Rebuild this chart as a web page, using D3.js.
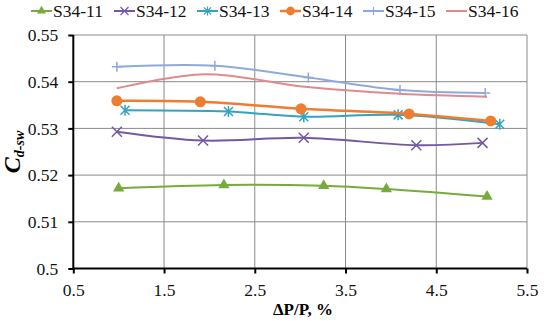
<!DOCTYPE html>
<html>
<head>
<meta charset="utf-8">
<script src="https://cdn.jsdelivr.net/npm/d3@7"></script>
<style>
  body { margin: 0; background: #fff; }
  svg text { font-family: "Liberation Serif", "Times New Roman", serif !important; }
</style>
</head>
<body>
<div id="chart"></div>
<script>
// series names and data
const seriesNames = ['S34-11', 'S34-12', 'S34-13', 'S34-14', 'S34-15', 'S34-16'];
const x11 = [1.00, 2.16, 3.26, 3.95, 5.06];
const y11 = [0.5172, 0.5179, 0.5177, 0.5170, 0.5154];
const x12 = [0.98, 1.93, 3.04, 4.28, 5.01];
const y12 = [0.5293, 0.5274, 0.5280, 0.5264, 0.5269];
const x13 = [1.07, 2.21, 3.04, 4.08, 5.20];
const y13 = [0.5339, 0.5336, 0.5325, 0.5329, 0.5309];
const x14 = [0.98, 1.90, 3.01, 4.20, 5.10];
const y14 = [0.5359, 0.5357, 0.5342, 0.5331, 0.5316];
const x15 = [0.98, 2.06, 3.09, 4.10, 5.04];
const y15 = [0.5432, 0.5434, 0.5409, 0.5382, 0.5376];
const x16 = [0.98, 1.95, 3.05, 4.10, 5.06];
const y16 = [0.5386, 0.5416, 0.5389, 0.5374, 0.5368];
const xTicks = [0.5, 1.5, 2.5, 3.5, 4.5, 5.5];
const yTicks = [0.5, 0.51, 0.52, 0.53, 0.54, 0.55];

const colors = ['#77ab3c', '#7458a4', '#33a3bf', '#ed7d31', '#8eaadb', '#e08a8e'];
const markers = ['triangle', 'x', 'asterisk', 'circle', 'plus', 'none'];
const widths = [2, 2, 2, 2.5, 2, 2];

const xs = [x11, x12, x13, x14, x15, x16];
const ys = [y11, y12, y13, y14, y15, y16];
const series = seriesNames.map((name, i) => ({
  name: name,
  color: colors[i],
  marker: markers[i],
  width: widths[i],
  points: xs[i].map((xv, j) => ({ x: xv, y: ys[i][j] }))
}));

const width = 550, height = 321;
const margin = { left: 73.3, right: 23, top: 35, bottom: 52.5 };

const svg = d3.select('#chart').append('svg')
  .attr('width', width).attr('height', height);

const x = d3.scaleLinear().domain([0.5, 5.5]).range([margin.left, width - margin.right]);
const y = d3.scaleLinear().domain([0.5, 0.55]).range([height - margin.bottom, margin.top]);

// gridlines
const grid = svg.append('g').attr('stroke', '#8a8a8a').attr('stroke-width', 1);
grid.selectAll('.vg').data(xTicks.slice(1)).enter().append('line')
  .attr('x1', d => x(d)).attr('x2', d => x(d))
  .attr('y1', y(0.5)).attr('y2', y(0.55));
grid.selectAll('.hg').data(yTicks.slice(1)).enter().append('line')
  .attr('x1', x(0.5)).attr('x2', x(5.5))
  .attr('y1', d => y(d)).attr('y2', d => y(d));

// axes
const xAxis = svg.append('g')
  .attr('transform', 'translate(0,' + y(0.5) + ')')
  .call(d3.axisBottom(x).tickValues(xTicks).tickSize(5).tickPadding(10).tickFormat(d => String(d)));
const yAxis = svg.append('g')
  .attr('transform', 'translate(' + x(0.5) + ',0)')
  .call(d3.axisLeft(y).tickValues(yTicks).tickSize(5).tickPadding(10).tickFormat(d => String(+d.toFixed(2))));
[xAxis, yAxis].forEach(a => {
  a.select('.domain').attr('stroke', '#000').attr('stroke-width', 2);
  a.selectAll('.tick line').attr('stroke', '#000').attr('stroke-width', 2);
  a.selectAll('text').attr('font-size', 17.5).attr('fill', '#111');
});
xAxis.select('.domain').attr('d', 'M' + x(0.5) + ',0H' + x(5.5));
yAxis.select('.domain').attr('d', 'M0,' + y(0.5) + 'V' + y(0.55));

// marker drawing
function drawMarker(g, type, color) {
  if(type === 'triangle') {
    g.append('path').attr('d', d3.symbol().type(d3.symbolTriangle).size(55)).attr('fill', color);
  } else if(type === 'circle') {
    g.append('circle').attr('r', 5.5).attr('fill', color);
  } else if(type === 'x') {
    g.append('path').attr('d', 'M-5,-5L5,5M-5,5L5,-5').attr('stroke', color).attr('stroke-width', 1.5);
  } else if(type === 'asterisk') {
    g.append('path').attr('d', 'M-4.5,-4.5L4.5,4.5M-4.5,4.5L4.5,-4.5M0,-5.5V5.5').attr('stroke', color).attr('stroke-width', 1.5);
  } else if(type === 'plus') {
    g.append('path').attr('d', 'M-5,0H5M0,-5V5').attr('stroke', color).attr('stroke-width', 1.5);
  }
}

// smooth lines like the spreadsheet
const line = d3.line().x(d => x(d.x)).y(d => y(d.y)).curve(d3.curveCatmullRom.alpha(0.5));

series.forEach(s => {
  svg.append('path')
    .datum(s.points)
    .attr('fill', 'none')
    .attr('stroke', s.color)
    .attr('stroke-width', s.width)
    .attr('d', line);
  s.points.forEach(p => {
    const g = svg.append('g').attr('transform', 'translate(' + x(p.x) + ',' + y(p.y) + ')');
    drawMarker(g, s.marker, s.color);
  });
});

// legend
const legend = svg.append('g');
seriesNames.forEach((name, i) => {
  const lx = 31 + i * 83;
  const item = legend.append('g').attr('transform', 'translate(' + lx + ',11)');
  item.append('line').attr('x1', 0).attr('x2', 21).attr('y1', 0).attr('y2', 0)
    .attr('stroke', colors[i]).attr('stroke-width', widths[i]);
  const m = item.append('g').attr('transform', 'translate(10.5,0) scale(0.8)');
  drawMarker(m, markers[i], colors[i]);
  item.append('text').attr('x', 22).attr('y', 6).attr('font-size', 17.5).attr('fill', '#111').text(name);
});

// axis titles
svg.append('text')
  .attr('x', 303).attr('y', 315)
  .attr('text-anchor', 'middle')
  .attr('font-weight', 'bold').attr('font-size', 17)
  .text('ΔP/P, %');

const yTitle = svg.append('text')
  .attr('transform', 'translate(20,152) rotate(-90)')
  .attr('text-anchor', 'middle')
  .attr('font-weight', 'bold').attr('font-style', 'italic');
yTitle.append('tspan').attr('font-size', 24).text('C');
yTitle.append('tspan').attr('font-size', 14).attr('dy', 4).text('d-sw');
</script>
</body>
</html>
